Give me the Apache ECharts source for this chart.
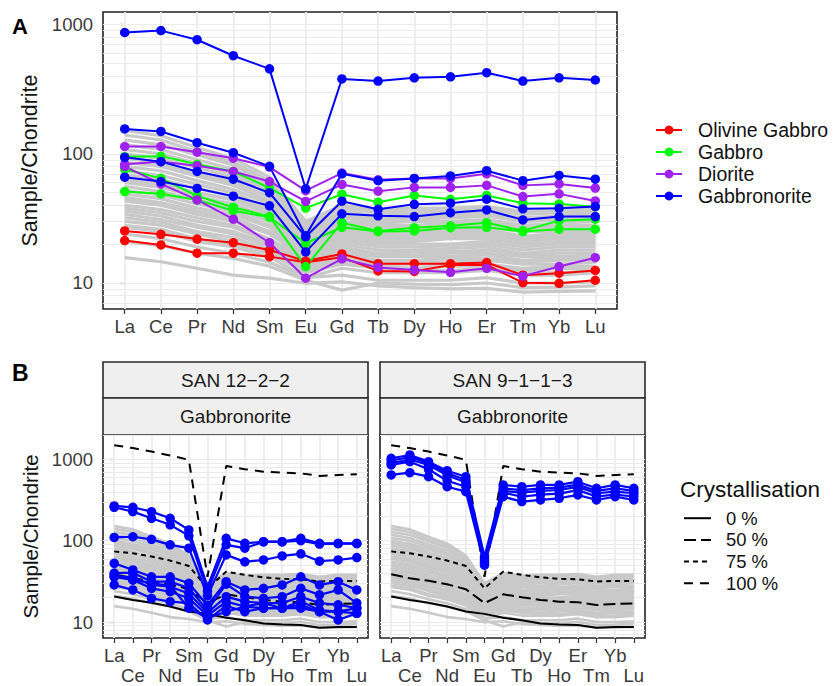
<!DOCTYPE html>
<html>
<head>
<meta charset="utf-8">
<script src="https://cdn.jsdelivr.net/npm/echarts@6/dist/echarts.min.js"></script>
<style>
html,body{margin:0;padding:0;background:#fff}
#chart{width:835px;height:686px}
</style>
</head>
<body>
<div id="chart"></div>
<script>
// Rare earth elements, in plotting order
const elements = ['La','Ce','Pr','Nd','Sm','Eu','Gd','Tb','Dy','Ho','Er','Tm','Yb','Lu'];
const yLabels = [10, 100, 1000];
const logGridA = [7,8,9,10,20,30,40,50,60,70,80,90,100,200,300,400,500,600,700,800,900,1000];
const logGridB = [7,8,9,10,20,30,40,50,60,70,80,90,100,200,300,400,500,600,700,800,900,1000,2000];

// Panel A – chondrite-normalised samples by rock type
const olivineGabbro = [
  [25.3, 23.8, 21.9, 20.5, 18, 14.8, 16.8, 14.1, 14.1, 14.1, 14.4, 11.5, 11.9, 12.5],
  [21.3, 19.7, 17, 17, 16, 14.5, 15.8, 12.4, 12.3, 13.8, 13.8, 10.05, 9.95, 10.5]
];
const gabbro = [
  [95, 96, 83, 73, 54.5, 38, 48.7, 42.2, 47.6, 44.5, 47.6, 41.5, 40.9, 39],
  [76, 64.6, 47.2, 38.6, 32.7, 13.4, 29.3, 25.3, 26.8, 27.7, 29.3, 25.4, 30.4, 31.2],
  [51, 49, 44, 36.3, 32.3, 20.3, 27, 25, 25.3, 26.8, 27, 25, 26.1, 26.1]
];
const diorite = [
  [114, 114, 103, 92.5, 79, 51.9, 71, 63, 64.5, 64.5, 70, 57, 58.5, 54.3],
  [83, 87, 81, 73, 61, 42.8, 58, 51.4, 55, 55, 57, 46.7, 49, 43.2],
  [80, 58.5, 44, 31.2, 20.5, 10.9, 15.4, 13.2, 12.6, 12.1, 13, 11.3, 13.4, 15.7]
];
const gabbronorite = [
  [870, 900, 765, 575, 455, 53.6, 380, 366, 388, 395, 425, 366, 388, 373],
  [156, 149, 122, 102, 80, 23.2, 70, 62, 64.5, 67.4, 74, 62, 68, 63.6],
  [94, 87, 73, 63.6, 50, 22.8, 43, 37.2, 40.7, 41.5, 44.5, 37.5, 37.9, 39.1],
  [66, 61, 54, 47, 39.6, 17.4, 34.3, 33.1, 32.7, 35, 36.8, 30.8, 32.7, 32.7]
];

// Whole data set, drawn in grey behind every panel
const background = [
  [152, 138, 112, 92, 66, 30, 40, 37, 38, 38, 39, 36, 38, 38],
  [140, 128, 104, 86, 62, 28, 39, 36, 37, 37, 38, 35, 36, 36],
  [128, 118, 98, 82, 58, 29, 38, 35, 35, 36, 37, 34, 35, 35],
  [118, 108, 90, 76, 55, 27, 36, 33, 34, 34, 35, 32, 33, 34],
  [108, 100, 84, 70, 52, 26, 35, 32, 33, 33, 34, 31, 32, 33],
  [100, 92, 78, 66, 49, 25, 33, 30, 31, 32, 33, 30, 31, 31],
  [95, 85, 70, 58, 43, 20, 27, 24, 24, 25, 25, 23, 24, 24],
  [92, 86, 72, 61, 46, 24, 32, 29, 30, 30, 31, 28, 29, 30],
  [86, 80, 67, 57, 43, 23, 30, 28, 28, 29, 30, 27, 28, 28],
  [80, 74, 62, 53, 41, 22, 29, 27, 27, 27, 28, 26, 27, 27],
  [74, 68, 58, 50, 38, 21, 28, 25, 26, 26, 27, 25, 25, 26],
  [69, 63, 54, 47, 36, 20, 26, 24, 25, 25, 26, 23, 24, 25],
  [64, 59, 50, 44, 34, 19, 25, 23, 23, 24, 25, 22, 23, 23],
  [62, 58, 50, 44, 36, 25, 34, 31, 32, 32, 33, 30, 31, 32],
  [60, 55, 47, 41, 32, 18.5, 24, 22, 22, 23, 23, 21, 22, 22],
  [56, 51, 44, 38, 30, 17.5, 23, 21, 21, 22, 22, 20, 21, 21],
  [52, 48, 41, 36, 28, 17, 22, 20, 20, 20, 21, 19, 20, 20],
  [49, 45, 38, 34, 27, 16.5, 21, 19, 19, 19.5, 20, 18, 19, 19],
  [46, 42, 36, 32, 25, 16, 20, 18, 18, 18.5, 19, 17, 18, 18],
  [45, 41, 35, 31, 25, 19, 24, 22, 23, 23, 24, 22, 22, 23],
  [43, 40, 34, 30, 24, 15.5, 19, 17, 17.5, 17.5, 18, 16.5, 17, 17],
  [40, 37, 32, 28, 22, 15, 18, 16.5, 16.5, 17, 17, 16, 16, 16.5],
  [38, 35, 30, 27, 21, 14.5, 17, 16, 16, 16, 16.5, 15, 15.5, 15.5],
  [36, 33, 28, 25, 20, 14, 16.5, 15, 15, 15.5, 15.5, 14.5, 15, 15],
  [34, 31, 27, 24, 19, 13.5, 16, 14.5, 14.5, 14.5, 15, 14, 14, 14.5],
  [32, 29.5, 25, 22.5, 18, 13, 15, 14, 14, 14, 14, 13, 13.5, 13.5],
  [30, 28, 24, 21, 17.5, 12.5, 14.5, 13.5, 13, 13.5, 13.5, 12.5, 13, 13],
  [28, 26, 22, 20, 17, 12, 14, 13, 12.5, 12.5, 13, 12, 12, 12.5],
  [27, 25, 21, 19, 16, 11, 13, 12, 12, 12, 12.5, 11.5, 11.5, 12],
  [24, 22, 19, 17, 14.5, 11, 11.5, 10.5, 10.5, 10.5, 11, 10, 10, 10.2],
  [21, 19.5, 17, 15.5, 13.5, 10.5, 8.8, 10, 9.8, 9.7, 10, 9.2, 9.3, 9.5],
  [15.7, 14.6, 13, 11.5, 10.9, 9.95, 10.2, 9.5, 9.2, 9, 9.1, 8.5, 8.6, 8.7]
];

// Panel B – fractional crystallisation model
const cryst0 = [20.6, 18.7, 17.3, 15.5, 13.5, 12.6, 11.3, 10.5, 9.6, 9.3, 9.2, 8.5, 8.7, 8.7];
const cryst50 = [38.7, 34.5, 32.1, 29.1, 25.3, 17.1, 21.9, 20.2, 18.7, 17.8, 17.5, 16.2, 16.7, 16.9];
const cryst75 = [74, 70, 64, 57, 49, 26, 41.7, 38, 35.5, 34, 33.6, 31.5, 32, 32];
const cryst100 = [1500, 1380, 1250, 1120, 990, 36, 830, 760, 707, 690, 675, 627, 645, 657];

// Panel B – Gabbronorite samples of each outcrop
const san1222 = [
  [268, 258, 228, 189, 136, 27, 107, 93, 97.5, 97.5, 107, 93, 93, 93],
  [258, 228, 189, 157, 115, 24, 89, 81, 97, 97, 100, 91, 92, 92],
  [110, 112, 104, 89, 81, 21, 67, 55, 58, 65, 69, 56, 58, 62],
  [52.8, 43.7, 36, 36, 30, 16, 31.4, 24.8, 26, 28.6, 36, 28.6, 31.4, 24.8],
  [40, 40.5, 31.4, 31.4, 26, 14, 29.2, 20.5, 19.6, 20.5, 26, 21.6, 24.8, 17.1],
  [36, 36, 28.6, 27.2, 22.4, 13, 20.5, 17.8, 17.1, 17.1, 20.5, 17.1, 16.3, 14.8],
  [36, 32.9, 26, 23.6, 19.6, 12, 17.8, 15.5, 14.8, 14.8, 16.3, 13.4, 13.4, 12.8],
  [28.6, 24.8, 19.6, 17.8, 17.1, 10.6, 15.8, 13.4, 14.8, 14.8, 14.8, 13.4, 10.6, 12.8],
  [38, 33, 30, 28, 14.8, 11.2, 13.4, 15.5, 17.1, 14.8, 18, 14, 13.4, 14.8]
];
const san9113 = [
  [1035, 1136, 940, 728, 614, 64, 486, 462, 486, 486, 533, 442, 486, 442],
  [970, 1070, 900, 680, 560, 60, 440, 420, 440, 450, 490, 410, 440, 410],
  [900, 1000, 855, 640, 520, 56, 410, 390, 410, 421, 460, 384, 402, 384],
  [855, 940, 757, 548, 462, 53, 390, 348, 370, 380, 420, 350, 370, 350],
  [645, 688, 614, 462, 402, 50, 348, 303, 318, 333, 366, 318, 348, 318]
];

const FONT = 'Liberation Sans, Arial, Helvetica, sans-serif';
const TEXT = '#3a3a3a';
const GREY = '#c9c9c9';
const elementIndex = elements.map((_, i) => i);
const evenIndex = elementIndex.filter(i => i % 2 === 0);
const oddIndex = elementIndex.filter(i => i % 2 === 1);
const toPoints = vals => vals.map((v, i) => [i, v]);

const panels = [
  { left: 103, top: 12, width: 514, height: 297, yMin: 6.29, yMax: 1254, grid: logGridA, twoRows: false, yShow: true, nameSize: 21.5, greyWidth: 3.2 },
  { left: 103, top: 435, width: 265, height: 203, yMin: 6.36, yMax: 2000, grid: logGridB, twoRows: true, yShow: true, nameSize: 20.5, greyWidth: 2.6 },
  { left: 380, top: 435, width: 265, height: 203, yMin: 6.36, yMax: 2000, grid: logGridB, twoRows: true, yShow: false, nameSize: 20.5, greyWidth: 2.6 }
];

const grids = panels.map(p => ({
  left: p.left, top: p.top, width: p.width, height: p.height,
  show: true, borderColor: '#222', borderWidth: 1.6, backgroundColor: '#fff', containLabel: false
}));

const labelStyle = { fontFamily: FONT, fontSize: 18.5, color: TEXT, lineHeight: 18.5 };
const tickStyle = { color: '#333', width: 1.2 };

// One x axis per panel carries the ticks; lower panels get a second one for the
// staggered row of labels
const xAxes = [];
panels.forEach((p, gi) => {
  p.xAxisIndex = xAxes.length;
  xAxes.push({
    type: 'value', gridIndex: gi, position: 'bottom', min: -0.6, max: 13.6,
    axisLine: { show: false },
    splitLine: { show: false },
    axisTick: { show: true, customValues: elementIndex, length: 5, lineStyle: tickStyle },
    axisLabel: Object.assign({
      show: true, customValues: p.twoRows ? evenIndex : elementIndex, margin: 8,
      showMinLabel: true, showMaxLabel: true, hideOverlap: false,
      formatter: v => elements[Math.round(v)]
    }, labelStyle)
  });
  if (p.twoRows) {
    xAxes.push({
      type: 'value', gridIndex: gi, position: 'bottom', min: -0.6, max: 13.6,
      axisLine: { show: false },
      splitLine: { show: false },
      axisTick: { show: false },
      axisLabel: Object.assign({
        show: true, customValues: oddIndex, margin: 28.5,
        showMinLabel: true, showMaxLabel: true, hideOverlap: false,
        formatter: v => elements[Math.round(v)]
      }, labelStyle)
    });
  }
});

const yAxes = panels.map((p, gi) => ({
  type: 'log', logBase: 10, gridIndex: gi, min: p.yMin, max: p.yMax,
  axisLine: { show: false },
  splitLine: { show: false },
  minorSplitLine: { show: false },
  axisTick: { show: p.yShow, customValues: yLabels, length: 5, lineStyle: tickStyle },
  axisLabel: {
    show: p.yShow, customValues: yLabels, margin: 10,
    fontFamily: FONT, fontSize: 18.5, color: TEXT,
    formatter: v => String(Math.round(v))
  },
  name: p.yShow ? 'Sample/Chondrite' : '',
  nameLocation: 'middle', nameRotate: 90, nameGap: 62,
  nameTextStyle: { fontFamily: FONT, fontSize: p.nameSize, color: '#111' }
}));

const series = [];

// light panel grid: every decade step and every element
panels.forEach((p, gi) => {
  series.push({
    type: 'line', xAxisIndex: p.xAxisIndex, yAxisIndex: gi, data: [], z: 1, silent: true,
    markLine: {
      z: 1, silent: true, animation: false, symbol: ['none', 'none'],
      label: { show: false },
      emphasis: { disabled: true },
      data: [
        ...p.grid.map(v => ({ yAxis: v, lineStyle: { color: '#ebebeb', width: 1.1, type: 'solid' } })),
        ...elementIndex.map(i => ({ xAxis: i, lineStyle: { color: '#ebebeb', width: 1.8, type: 'solid' } }))
      ]
    }
  });
});

// grey background samples
panels.forEach((p, gi) => {
  background.forEach(row => {
    series.push({
      type: 'line', name: 'All samples', xAxisIndex: p.xAxisIndex, yAxisIndex: gi, z: 2, silent: true,
      symbol: 'none', data: toPoints(row),
      lineStyle: { color: GREY, width: p.greyWidth }
    });
  });
});

// Panel A coloured groups
const groupsA = [
  ['Olivine Gabbro', '#ff0000', olivineGabbro],
  ['Gabbro', '#00ff00', gabbro],
  ['Diorite', '#a020f0', diorite],
  ['Gabbronorite', '#0000ff', gabbronorite]
];
groupsA.forEach(([name, color, rows]) => {
  rows.forEach(row => {
    series.push({
      type: 'line', name, xAxisIndex: panels[0].xAxisIndex, yAxisIndex: 0, z: 4,
      symbol: 'circle', symbolSize: 9.5, data: toPoints(row),
      itemStyle: { color }, lineStyle: { color, width: 2 }
    });
  });
});

// Panel B crystallisation model, same in both panels
const models = [
  ['0 %', cryst0, 'solid'],
  ['50 %', cryst50, [12, 5]],
  ['75 %', cryst75, [5, 4]],
  ['100 %', cryst100, [9, 7]]
];
[1, 2].forEach(gi => {
  models.forEach(([name, vals, type]) => {
    series.push({
      type: 'line', name, xAxisIndex: panels[gi].xAxisIndex, yAxisIndex: gi, z: 3,
      symbol: 'none', data: toPoints(vals),
      itemStyle: { color: '#000' },
      lineStyle: { color: '#000', width: 2, type }
    });
  });
});

// Panel B samples
[[1, san1222], [2, san9113]].forEach(([gi, rows]) => {
  rows.forEach(row => {
    series.push({
      type: 'line', name: 'Gabbronorite', xAxisIndex: panels[gi].xAxisIndex, yAxisIndex: gi, z: 4,
      symbol: 'circle', symbolSize: 9.5, data: toPoints(row),
      itemStyle: { color: '#0000ff' }, lineStyle: { color: '#0000ff', width: 2.2 }
    });
  });
});

// facet strips above the two lower panels
const strips = [
  { left: 103, width: 265, site: 'SAN 12\u22122\u22122', rock: 'Gabbronorite' },
  { left: 380, width: 265, site: 'SAN 9\u22121\u22121\u22123', rock: 'Gabbronorite' }
];
const graphic = [];
strips.forEach(s => {
  [[362, 36, s.site], [398, 37, s.rock]].forEach(([y, h, label]) => {
    graphic.push({
      type: 'rect', z: 0,
      shape: { x: s.left, y, width: s.width, height: h },
      style: { fill: '#efefef', stroke: '#2a2a2a', lineWidth: 1.6 }
    });
    graphic.push({
      type: 'text', z: 1,
      x: s.left + s.width / 2, y: y + h / 2,
      style: {
        text: label, fill: '#1a1a1a', font: '19px ' + FONT,
        align: 'center', verticalAlign: 'middle',
        textAlign: 'center', textVerticalAlign: 'middle'
      }
    });
  });
});

const option = {
  animation: false,
  backgroundColor: '#ffffff',
  textStyle: { fontFamily: FONT },
  title: [
    { text: 'A', left: 12, top: 15, padding: 0, textStyle: { fontFamily: FONT, fontSize: 22, fontWeight: 'bold', color: '#000' } },
    { text: 'B', left: 12, top: 361, padding: 0, textStyle: { fontFamily: FONT, fontSize: 23, fontWeight: 'bold', color: '#000' } },
    { text: 'Crystallisation', left: 680, top: 478, padding: 0, textStyle: { fontFamily: FONT, fontSize: 22.5, fontWeight: 'normal', color: '#111' } }
  ],
  legend: [
    {
      data: ['Olivine Gabbro', 'Gabbro', 'Diorite', 'Gabbronorite'],
      orient: 'vertical', left: 655, top: 120, padding: 0,
      itemWidth: 26, itemHeight: 11, itemGap: 2, selectedMode: false,
      textStyle: { fontFamily: FONT, fontSize: 19.5, lineHeight: 20, color: '#111', padding: [0, 0, 0, 11] }
    },
    {
      data: ['0 %', '50 %', '75 %', '100 %'],
      orient: 'vertical', left: 683, top: 509, padding: 0,
      itemWidth: 27, itemHeight: 10, itemGap: 3.3, selectedMode: false,
      itemStyle: { opacity: 0 },
      textStyle: { fontFamily: FONT, fontSize: 18.4, lineHeight: 18.4, color: '#111', padding: [0, 0, 0, 10] }
    }
  ],
  grid: grids,
  xAxis: xAxes,
  yAxis: yAxes,
  graphic,
  series
};

const chart = echarts.init(document.getElementById('chart'), null, { renderer: 'svg', width: 835, height: 686 });
chart.setOption(option);
</script>
</body>
</html>
